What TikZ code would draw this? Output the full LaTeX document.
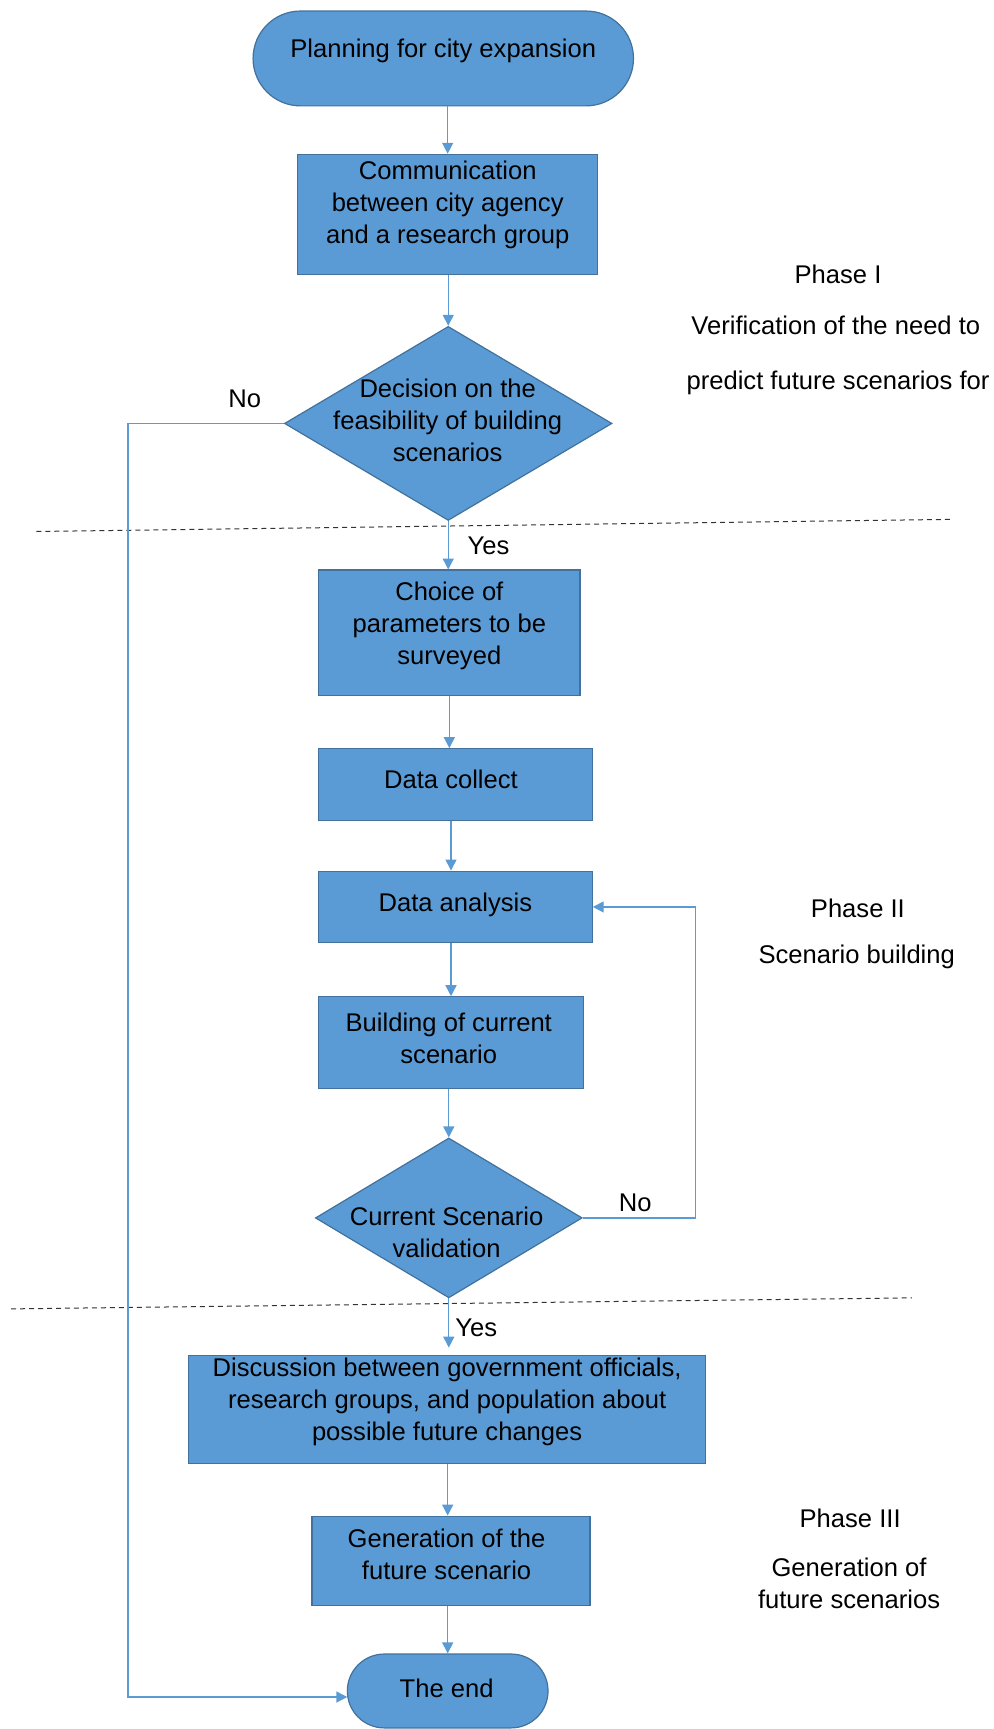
\documentclass[tikz,border=0pt]{standalone}
\usepackage{fontspec}
\setmainfont{Liberation Sans}
\usetikzlibrary{shapes.geometric,shapes.misc,arrows.meta}
\definecolor{fillblue}{HTML}{5B9BD5}
\definecolor{edgeblue}{HTML}{41719C}
\definecolor{lineblue}{HTML}{5B9BD5}
\def\pxu{0.5516pt}
\begin{document}
\begin{tikzpicture}[x=0.5516pt, y=-0.5516pt,
  every node/.style={font=\fontsize{12.8}{16}\selectfont},
  procbox/.style={rectangle, draw=edgeblue, fill=fillblue, line width=0.6pt, inner sep=0pt},
  term/.style={rounded rectangle, draw=edgeblue, fill=fillblue, line width=0.6pt, inner sep=0pt},
  decis/.style={diamond, draw=edgeblue, fill=fillblue, line width=0.6pt, inner sep=0pt},
  arr/.style={draw=lineblue, line width=0.7pt, -{Triangle[width=5.5pt,length=5.5pt]}},
  sepline/.style={draw=black!80, line width=0.5pt, dash pattern=on 2.5pt off 2pt},
  lbl/.style={inner sep=0pt, align=center}]
\useasboundingbox (0,0) rectangle (901,1568);

% separator lines
\coordinate (s1a) at (33,482);
\coordinate (s1b) at (862,471);
\coordinate (s2a) at (10,1187);
\coordinate (s2b) at (827,1177);
\draw[sepline] (s1a) -- (s1b);
\draw[sepline] (s2a) -- (s2b);

% shapes
\node[term, minimum width={345*\pxu}, minimum height={86*\pxu}] (start) at (402,53) {};
\node[lbl] (starttxt) at (402,46) {Planning for city expansion};

\node[procbox, minimum width={272*\pxu}, minimum height={109*\pxu}] (comm) at (406,194.5) {};
\node[lbl] (commtxt) at (406,186) {Communication\\between city agency\\and a research group};

\node[decis, minimum width={297*\pxu}, minimum height={176*\pxu}] (d1) at (406.5,384) {};
\node[lbl] (d1txt) at (406,381) {Decision on the\\feasibility of building\\scenarios};

\node[procbox, minimum width={237*\pxu}, minimum height={114*\pxu}] (choice) at (407.5,574) {};
\node[lbl] (choicetxt) at (407.5,568) {Choice of\\parameters to be\\surveyed};

\node[procbox, minimum width={248*\pxu}, minimum height={65*\pxu}] (collect) at (413,711.5) {};
\node[lbl] (collecttxt) at (409,707) {Data collect};

\node[procbox, minimum width={248*\pxu}, minimum height={65*\pxu}] (analysis) at (413,822.5) {};
\node[lbl] (analysistxt) at (413,821) {Data analysis};

\node[procbox, minimum width={240*\pxu}, minimum height={83*\pxu}] (current) at (409,945.5) {};
\node[lbl] (currenttxt) at (407,941.5) {Building of current\\scenario};

\node[decis, minimum width={242*\pxu}, minimum height={145*\pxu}] (d2) at (407,1104.5) {};
\node[lbl] (d2txt) at (405,1118) {Current Scenario\\validation};

\node[procbox, minimum width={469*\pxu}, minimum height={98*\pxu}] (discuss) at (405.5,1278) {};
\node[lbl] (discusstxt) at (405.5,1271) {Discussion between government officials,\\research groups, and population about\\possible future changes};

\node[procbox, minimum width={252*\pxu}, minimum height={81*\pxu}] (gen) at (409,1415.5) {};
\node[lbl] (gentxt) at (405,1410) {Generation of the\\future scenario};

\node[term, minimum width={182*\pxu}, minimum height={67*\pxu}] (end) at (406,1533.5) {};
\node[lbl] (endtxt) at (405,1531) {The end};

% connectors
\draw[arr] (start.south -| comm) -- (comm.north);
\draw[arr] (comm.south -| d1) -- (d1.north);
\draw[arr] (d1.south) -- (d1.south |- choice.north);
\draw[arr] (choice.south) -- (choice.south |- collect.north);
\draw[arr] (collect.south -| current) -- (current.south |- analysis.north);
\draw[arr] (analysis.south -| current) -- (current.north);
\draw[arr] (current.south -| d2) -- (d2.north);
\draw[arr, shorten >=3.5pt] (d2.south) -- (d2.south |- discuss.north);
\draw[arr] (discuss.south -| end) -- (end.south |- gen.north);
\draw[arr] (gen.south -| end) -- (end.north);

\coordinate (nocorner) at (116,384);
\coordinate (endin) at (315,1539);
\draw[arr] (d1.west) -- (nocorner) |- (endin);
\coordinate (loopc) at (631,1104.5);
\draw[arr] (d2.east) -- (loopc) |- (analysis.east);

% branch labels
\node[lbl] (no1) at (222,362) {No};
\node[lbl] (yes1) at (443,495) {Yes};
\node[lbl] (no2) at (576,1091) {No};
\node[lbl] (yes2) at (432,1204) {Yes};

% phase texts
\node[lbl] (p1a) at (760,249) {Phase I};
\node[lbl] (p1b) at (758,295) {Verification of the need to};
\node[lbl] (p1c) at (760,347) {predict future scenarios for};
\node[lbl] (p2a) at (778,824) {Phase II};
\node[lbl] (p2b) at (777,868) {Scenario building};
\node[lbl] (p3a) at (771,1377) {Phase III};
\node[lbl] (p3b) at (770,1436) {Generation of\\future scenarios};
\end{tikzpicture}
\end{document}
